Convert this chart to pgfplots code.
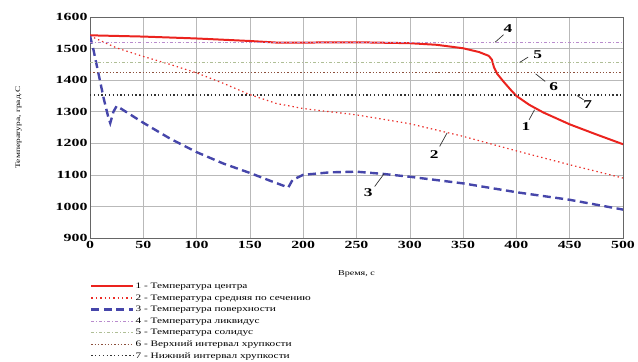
\documentclass[border=0pt]{standalone}
\usepackage{pgfplots}
\pgfplotsset{compat=1.18}
\usepackage{fontspec}
\setmainfont{Liberation Serif}
\newfontfamily\tickfont[FakeStretch=1.45]{Liberation Serif}
\newfontfamily\smallfont[FakeStretch=1.35]{Liberation Serif}
\definecolor{c1}{RGB}{235,35,30}
\definecolor{c2}{RGB}{235,45,40}
\definecolor{c3}{RGB}{70,70,170}
\definecolor{c4}{RGB}{185,140,205}
\definecolor{c5}{RGB}{175,190,150}
\definecolor{c6}{RGB}{140,80,60}
\definecolor{c7}{RGB}{50,50,50}
\begin{document}
\begin{tikzpicture}
\path[use as bounding box] (0bp,0bp) rectangle (638bp,362bp);
\begin{axis}[
  at={(90bp,124bp)}, anchor=south west,
  scale only axis, width=533bp, height=221bp,
  xmin=0, xmax=500, ymin=900, ymax=1600,
  xtick={0,50,...,500}, ytick={900,1000,...,1600},
  grid=major, major grid style={gray!55, line width=0.6pt},
  axis line style={gray!80!black, line width=0.8pt},
  tick style={draw=none},
  ticklabel style={font=\tickfont\bfseries\fontsize{11}{11}\selectfont},
  yticklabel style={xshift=1pt},
  /pgf/number format/assume math mode=true,
  /pgf/number format/1000 sep={},
  xlabel={Время, с},
  xlabel style={font=\smallfont\fontsize{7.5}{7.5}\selectfont, at={(axis description cs:0.5,-0.16)}, anchor=center},
  ylabel={Температура, град.С},
  ylabel style={font=\smallfont\fontsize{7}{7}\selectfont, at={(axis description cs:-0.134,0.5)}, anchor=center},
  legend cell align=left,
  legend style={draw=none, fill=none, at={(rel axis cs:0,-0.197)}, anchor=north west,
     font=\smallfont\fontsize{8.4}{8.4}\selectfont, row sep=2.1pt, inner sep=0pt,
     nodes={inner sep=1pt, text height=6pt, text depth=1.5pt}},
  legend image code/.code={\draw[#1] (0bp,0bp) -- (42bp,0bp);},
]
\addplot[c1, line width=2pt] coordinates {
(0,1542) (50,1538) (100,1532) (150,1524) (175,1519) (200,1519) (250,1520)
(300,1517) (325,1512) (350,1501) (365,1489) (374,1477) (377,1465) (379,1440)
(382,1420) (388,1395) (395,1368) (400,1350) (412,1322) (425,1298) (450,1260)
(475,1228) (500,1197)};
\addlegendentry{1 - Температура центра}
\addplot[c2, line width=1.2pt, dash pattern=on 1.4pt off 3pt] coordinates {
(0,1540) (25,1502) (50,1475) (75,1450) (100,1423) (125,1390) (150,1354)
(175,1326) (200,1310) (225,1300) (250,1290) (300,1262) (350,1222)
(400,1176) (450,1132) (500,1090)};
\addlegendentry{2 - Температура средняя по сечению}
\addplot[c3, line width=2.4pt, dash pattern=on 8pt off 4.5pt] coordinates {
(0,1540) (3,1500) (8,1420) (13,1340) (17,1285) (19,1264) (22,1300) (25,1318)
(28,1312) (50,1265) (75,1215) (100,1172) (125,1136) (150,1106) (170,1080)
(186,1060) (190,1084) (200,1100) (225,1108) (250,1110) (275,1103) (300,1094)
(350,1073) (400,1045) (450,1021) (500,990)};
\addlegendentry{3 - Температура поверхности}
\addplot[c4, line width=0.8pt, dash pattern=on 3pt off 2pt on 1pt off 2pt] coordinates {(0,1521) (500,1521)};
\addlegendentry{4 - Температура ликвидус}
\addplot[c5, line width=0.8pt, dash pattern=on 3pt off 2pt on 1pt off 2pt] coordinates {(0,1456) (500,1456)};
\addlegendentry{5 - Температура солидус}
\addplot[c6, line width=0.9pt, dash pattern=on 1.3pt off 2pt] coordinates {(0,1424) (500,1424)};
\addlegendentry{6 - Верхний интервал хрупкости}
\addplot[c7, line width=1.2pt, dash pattern=on 1.3pt off 2.5pt] coordinates {(0,1353) (500,1353)};
\addlegendentry{7 - Нижний интервал хрупкости}
% annotations
\begin{scope}[line width=0.7pt, gray!40!black, every node/.style={font=\tickfont\bfseries\fontsize{12}{12}\selectfont, text=black}]
\draw (axis cs:417,1306) -- (axis cs:412,1275);
\node at (axis cs:409,1252) {1};
\draw (axis cs:335,1233) -- (axis cs:328,1190);
\node at (axis cs:323,1163) {2};
\draw (axis cs:276,1104) -- (axis cs:267,1063);
\node at (axis cs:261,1043) {3};
\draw (axis cs:380,1520) -- (axis cs:388,1544);
\node at (axis cs:392,1563) {4};
\draw (axis cs:403,1456) -- (axis cs:411,1473);
\node at (axis cs:420,1482) {5};
\draw (axis cs:418,1420) -- (axis cs:427,1396);
\node at (axis cs:435,1378) {6};
\draw (axis cs:457,1351) -- (axis cs:463,1338);
\node at (axis cs:467,1324) {7};
\end{scope}
\end{axis}
\end{tikzpicture}
\end{document}
